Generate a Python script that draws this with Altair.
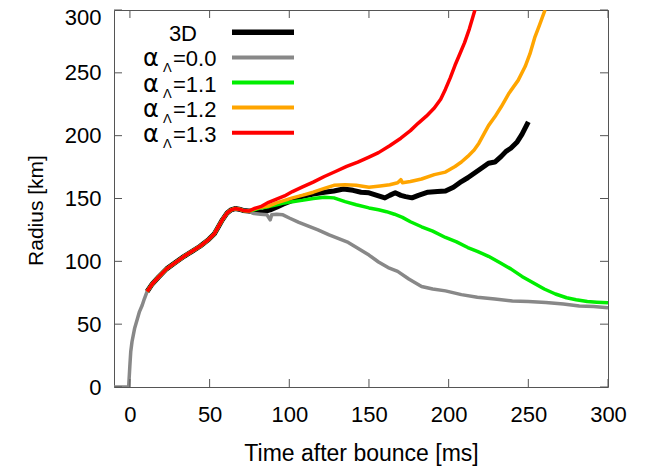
import altair as alt
import pandas as pd

# ---------------- data ----------------
early_t = [10.8, 14, 18, 23, 28.5, 34, 39, 44, 49.5, 53, 55.7, 58, 61, 63.5, 66, 68.5, 71, 74.5]
early_r = [76, 82, 87.5, 94, 99, 104, 108, 112, 117.5, 122, 128, 133, 138.5, 141, 142, 141.5, 140.5, 140]

gray_pre_t = [-10, -0.8, 0, 0.5, 1.3, 3, 4.6, 6, 7.7, 9]
gray_pre_r = [0, 0, 18, 28, 36, 47, 54, 60, 65, 70]
gray_post_t = [78, 82, 86, 88, 89, 92, 96, 100, 106, 112, 118, 125, 131, 137, 143, 150, 156, 162,
               168, 175, 183, 190, 198, 208, 218, 229, 240, 250, 261, 272, 282, 291, 300]
gray_post_r = [138, 137.5, 137, 133, 137, 137.5, 137, 134.5, 131, 128, 125, 121, 118, 115, 110.5,
               105, 99.5, 95, 92, 86, 80, 78, 76.5, 73.5, 71.5, 70, 68.5, 68, 67.3, 66, 64.5, 64, 63]

green_t = [78, 82, 87, 92, 97, 102, 108, 115, 122, 128, 135, 142, 150, 156, 161, 166, 171, 176,
           183, 190, 198, 205, 212, 218, 225, 232, 239, 246, 253, 260, 267, 274, 280, 287, 293, 300]
green_r = [141, 142.5, 143.5, 145, 146.5, 147.5, 148.5, 150, 151, 150.5, 147.5, 145, 142.5, 141,
           139.5, 137.5, 135, 131.5, 127.5, 124, 119, 115.5, 111, 108, 104, 99, 94, 88, 83, 78,
           74, 71, 69.5, 68, 67.5, 67]

orange_t = [78, 82, 87, 92, 97, 102, 108, 115, 122, 128, 135, 142, 150, 157, 163, 168, 170, 171,
            176, 183, 191, 198, 204, 208, 212, 216, 219, 222, 225, 229, 233, 238, 243.6, 248,
            251, 254, 257, 260.5]
orange_r = [141.5, 143, 144, 146.5, 148.5, 150.5, 152.5, 155, 158, 160.5, 161, 160.5, 159, 160,
            161, 162.5, 165, 162.5, 163.5, 165.5, 169, 171, 175.5, 179, 183.5, 188.5, 194, 201,
            208, 215, 223, 234, 244, 255, 265, 278, 288, 300]

black_t = [77, 80, 84, 88, 92, 96, 100, 108, 115, 122, 128, 134, 140, 145, 150, 155, 160, 163,
           166.5, 170, 173, 177, 181, 187, 193, 198, 203, 208, 212, 216.5, 221, 225, 229, 233,
           236, 239, 243, 246, 250]
black_r = [139.5, 139, 139.5, 141, 143, 145.5, 147.5, 151.5, 153.5, 155, 156, 157.5, 156.5, 155,
           154.5, 152.5, 150.5, 152.5, 154.5, 152.5, 151.5, 150.5, 152.5, 155, 155.5, 156, 159,
           163.5, 166.5, 170.5, 174.5, 178, 179, 183.5, 187.5, 190, 195, 201, 211]

red_t = [78, 82, 87, 92, 97, 102, 108, 115, 122, 129, 136, 143, 150, 156, 163, 170, 176, 181,
         186, 191, 195, 198, 201, 204, 207, 210, 213, 216.5]
red_r = [142, 143.5, 147, 149.5, 152, 155.5, 159, 163, 167.5, 171.5, 175.5, 179, 183, 186.5, 192,
         198, 204, 210, 215.5, 222, 229, 237, 246, 256, 265, 274, 285, 300]

tick_values = [0, 50, 100, 150, 200, 250, 300]

legend_values = ["0.0", "1.1", "1.2", "1.3"]
series_colors = ["#000000", "#888888", "#00ee00", "#ffa500", "#ff0000"]
series_widths = [5, 3.5, 3.5, 3.5, 3.5]

# ---------------- layout ----------------
W, H = 494, 377
FONT = "Liberation Sans"
TICK_LEN = 8
BORDER = "#555555"

xscale = alt.Scale(domain=[-10, 300], nice=False, zero=False)
yscale = alt.Scale(domain=[0, 300], nice=False, zero=False)

series = [
    ("3D", early_t + black_t, early_r + black_r),
    ("0.0", gray_pre_t + early_t + gray_post_t, gray_pre_r + early_r + gray_post_r),
    ("1.1", early_t + green_t, early_r + green_r),
    ("1.2", early_t + orange_t, early_r + orange_r),
    ("1.3", early_t + red_t, early_r + red_r),
]

layers = []
for i, (name, ts, rs) in enumerate(series):
    df = pd.DataFrame({"t": ts, "r": rs, "order": list(range(len(ts)))})
    if i == 0:
        xenc = alt.X("t:Q", scale=xscale, axis=alt.Axis(
            title="Time after bounce [ms]", values=tick_values, labelFontSize=22,
            labelPadding=17, titleFontSize=23, titleX=247, titleY=73, labelFlush=False,
            labelOverlap=False,
            titleBaseline="alphabetic", titleAnchor="middle"))
        yenc = alt.Y("r:Q", scale=yscale, axis=alt.Axis(
            title="Radius [km]", values=tick_values, labelFontSize=22,
            labelPadding=13, titleFontSize=21, titleX=-72, titleY=200, labelFlush=False,
            labelOverlap=False,
            labelOffset=alt.condition("datum.value == 300", alt.value(7), alt.value(0)),
            titleBaseline="alphabetic", titleAngle=-90, titleAnchor="middle"))
    else:
        xenc = alt.X("t:Q", scale=xscale)
        yenc = alt.Y("r:Q", scale=yscale)
    layers.append(
        alt.Chart(df).mark_line(color=series_colors[i], strokeWidth=series_widths[i],
                                clip=True, strokeJoin="round")
        .encode(x=xenc, y=yenc, order="order:Q")
    )

# inward ticks on all four sides
tdf = pd.DataFrame({"v": tick_values})
layers.append(alt.Chart(tdf).mark_rule(color=BORDER, strokeWidth=1).encode(
    x=alt.X("v:Q", scale=xscale), y=alt.value(H), y2=alt.value(H - TICK_LEN)))
layers.append(alt.Chart(tdf).mark_rule(color=BORDER, strokeWidth=1).encode(
    x=alt.X("v:Q", scale=xscale), y=alt.value(0), y2=alt.value(TICK_LEN)))
layers.append(alt.Chart(tdf).mark_rule(color=BORDER, strokeWidth=1).encode(
    y=alt.Y("v:Q", scale=yscale), x=alt.value(0), x2=alt.value(TICK_LEN)))
layers.append(alt.Chart(tdf).mark_rule(color=BORDER, strokeWidth=1).encode(
    y=alt.Y("v:Q", scale=yscale), x=alt.value(W), x2=alt.value(W - TICK_LEN)))

# custom legend (top-left, inside the plot)
one = pd.DataFrame({"a": [0]})
row0, row_step = 22.3, 25.1
for i in range(5):
    yc = row0 + row_step * i
    layers.append(alt.Chart(one).mark_rule(color=series_colors[i], strokeWidth=series_widths[i] + 0.5).encode(
        x=alt.value(118), x2=alt.value(180), y=alt.value(yc)))
    if i == 0:
        layers.append(alt.Chart(one).mark_text(text="3D", align="right", baseline="alphabetic",
                                               font=FONT, fontSize=22, color="black").encode(
            x=alt.value(83), y=alt.value(yc + 9)))
    else:
        layers.append(alt.Chart(one).mark_text(text="α", align="left", baseline="alphabetic",
                                               font="DejaVu Sans", fontSize=24, color="black").encode(
            x=alt.value(29), y=alt.value(yc + 9)))
        layers.append(alt.Chart(one).mark_text(text="Λ", align="left", baseline="alphabetic",
                                               font=FONT, fontSize=13, color="black").encode(
            x=alt.value(49), y=alt.value(yc + 15)))
        layers.append(alt.Chart(one).mark_text(text="=" + legend_values[i - 1], align="left",
                                               baseline="alphabetic", font=FONT, fontSize=22,
                                               color="black").encode(
            x=alt.value(59), y=alt.value(yc + 9)))

chart = alt.layer(*layers).properties(
    width=W, height=H,
    autosize=alt.AutoSizeParams(type="none"),
    padding={"left": 106, "top": 2, "right": 38, "bottom": 80},
).configure_view(
    stroke=BORDER, strokeWidth=1
).configure_axis(
    grid=False, ticks=False, domain=False,
    labelFont=FONT, titleFont=FONT, labelColor="black", titleColor="black",
    titleFontWeight="normal"
)

chart.save("out.html", embed_options={"renderer": "svg", "actions": False})
